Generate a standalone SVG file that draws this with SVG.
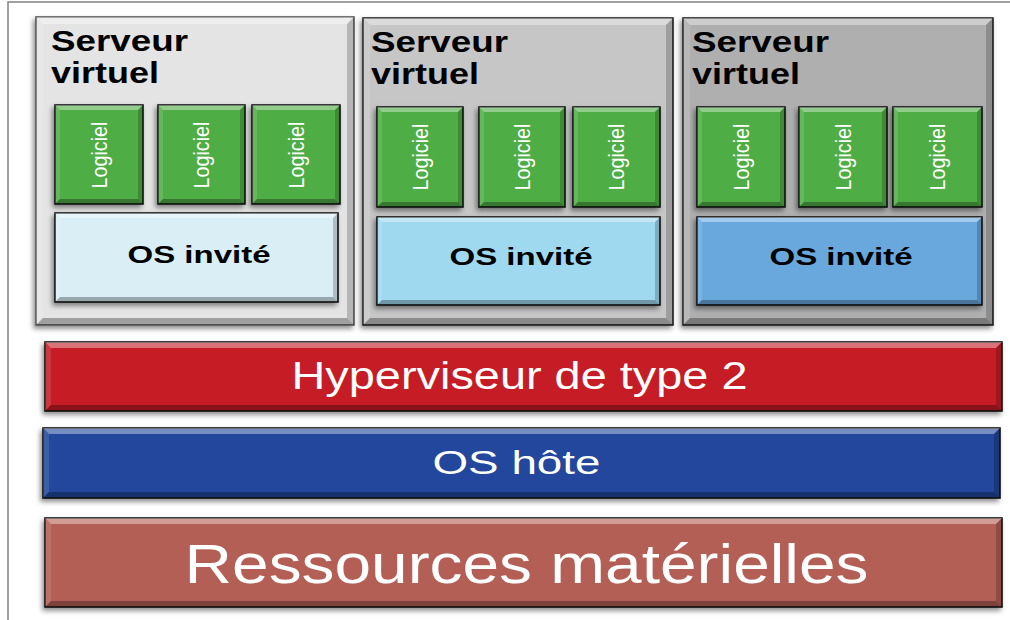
<svg xmlns="http://www.w3.org/2000/svg" width="1010" height="620" viewBox="0 0 1010 620">
<defs>
<filter id="sh" x="-10%" y="-10%" width="120%" height="125%">
<feDropShadow dx="-2" dy="3" stdDeviation="2.5" flood-color="#000" flood-opacity="0.45"/>
</filter>
<style>
.box{filter:url(#sh);stroke-width:1.6}
.srv1{fill:#e4e4e4;stroke:#555}
.srv2{fill:#c6c6c6;stroke:#222}
.srv3{fill:#afafaf;stroke:#222}
.log{fill:#4fad45;stroke:#111}
.os1{fill:#d9eff5;stroke:#111}
.os2{fill:#9fd9ef;stroke:#111}
.os3{fill:#68a8dc;stroke:#111}
.hyp{fill:#c61e26;stroke:#111}
.host{fill:#22479c;stroke:#111}
.res{fill:#b35e55;stroke:#111}
.bt{fill:#fff;fill-opacity:0.38}
.bl{fill:#fff;fill-opacity:0.12}
.bb{fill:#000;fill-opacity:0.3}
.br{fill:#000;fill-opacity:0.2}
.title{font-family:"Liberation Sans",Arial,sans-serif;font-weight:bold;font-size:30px;fill:#000}
.lt{font-family:"Liberation Sans",Arial,sans-serif;font-size:22px;fill:#fff;text-anchor:middle}
.ost{font-family:"Liberation Sans",Arial,sans-serif;font-weight:bold;font-size:24px;fill:#000;text-anchor:middle}
.big{font-family:"Liberation Sans",Arial,sans-serif;fill:#fff;text-anchor:middle}
</style>
</defs>
<rect x="8" y="2" width="1010" height="630" fill="#fff" stroke="#8a8a8a" stroke-width="1.6"/>

<g id="serveur1">
<rect class="box srv1" x="36" y="17" width="318" height="308"/>
<polygon class="bt" points="36,17 354,17 347,24 43,24"/>
<polygon class="bl" points="36,17 43,24 43,318 36,325"/>
<polygon class="bb" points="36,325 43,318 347,318 354,325"/>
<polygon class="br" points="354,17 354,325 347,318 347,24"/>
<text class="title" x="51" y="51" textLength="137" lengthAdjust="spacingAndGlyphs">Serveur</text>
<text class="title" x="51" y="83" textLength="108" lengthAdjust="spacingAndGlyphs">virtuel</text>
<g id="s1-logiciel1">
<rect class="box log" x="55" y="105" width="88" height="99"/>
<polygon class="bt" points="55,105 143,105 138,110 60,110"/>
<polygon class="bl" points="55,105 60,110 60,199 55,204"/>
<polygon class="bb" points="55,204 60,199 138,199 143,204"/>
<polygon class="br" points="143,105 143,204 138,199 138,110"/>
<text class="lt" transform="translate(99,155) rotate(-90)" x="0" y="7.5" textLength="67" lengthAdjust="spacingAndGlyphs">Logiciel</text>
</g>
<g id="s1-logiciel2">
<rect class="box log" x="158" y="105" width="87" height="99"/>
<polygon class="bt" points="158,105 245,105 240,110 163,110"/>
<polygon class="bl" points="158,105 163,110 163,199 158,204"/>
<polygon class="bb" points="158,204 163,199 240,199 245,204"/>
<polygon class="br" points="245,105 245,204 240,199 240,110"/>
<text class="lt" transform="translate(201.5,155) rotate(-90)" x="0" y="7.5" textLength="67" lengthAdjust="spacingAndGlyphs">Logiciel</text>
</g>
<g id="s1-logiciel3">
<rect class="box log" x="252" y="105" width="88" height="99"/>
<polygon class="bt" points="252,105 340,105 335,110 257,110"/>
<polygon class="bl" points="252,105 257,110 257,199 252,204"/>
<polygon class="bb" points="252,204 257,199 335,199 340,204"/>
<polygon class="br" points="340,105 340,204 335,199 335,110"/>
<text class="lt" transform="translate(296,155) rotate(-90)" x="0" y="7.5" textLength="67" lengthAdjust="spacingAndGlyphs">Logiciel</text>
</g>
<g id="s1-os">
<rect class="box os1" x="55" y="213" width="283" height="89"/>
<polygon class="bt" points="55,213 338,213 333,218 60,218"/>
<polygon class="bl" points="55,213 60,218 60,297 55,302"/>
<polygon class="bb" points="55,302 60,297 333,297 338,302"/>
<polygon class="br" points="338,213 338,302 333,297 333,218"/>
<text class="ost" x="199" y="263" textLength="143" lengthAdjust="spacingAndGlyphs">OS invité</text>
</g>
</g>

<g id="serveur2">
<rect class="box srv2" x="363" y="18" width="310" height="307"/>
<polygon class="bt" points="363,18 673,18 666,25 370,25"/>
<polygon class="bl" points="363,18 370,25 370,318 363,325"/>
<polygon class="bb" points="363,325 370,318 666,318 673,325"/>
<polygon class="br" points="673,18 673,325 666,318 666,25"/>
<text class="title" x="371" y="52" textLength="137" lengthAdjust="spacingAndGlyphs">Serveur</text>
<text class="title" x="371" y="84" textLength="108" lengthAdjust="spacingAndGlyphs">virtuel</text>
<g id="s2-logiciel1">
<rect class="box log" x="377" y="107" width="86" height="100"/>
<polygon class="bt" points="377,107 463,107 458,112 382,112"/>
<polygon class="bl" points="377,107 382,112 382,202 377,207"/>
<polygon class="bb" points="377,207 382,202 458,202 463,207"/>
<polygon class="br" points="463,107 463,207 458,202 458,112"/>
<text class="lt" transform="translate(420,157) rotate(-90)" x="0" y="7.5" textLength="67" lengthAdjust="spacingAndGlyphs">Logiciel</text>
</g>
<g id="s2-logiciel2">
<rect class="box log" x="479" y="107" width="86" height="100"/>
<polygon class="bt" points="479,107 565,107 560,112 484,112"/>
<polygon class="bl" points="479,107 484,112 484,202 479,207"/>
<polygon class="bb" points="479,207 484,202 560,202 565,207"/>
<polygon class="br" points="565,107 565,207 560,202 560,112"/>
<text class="lt" transform="translate(522,157) rotate(-90)" x="0" y="7.5" textLength="67" lengthAdjust="spacingAndGlyphs">Logiciel</text>
</g>
<g id="s2-logiciel3">
<rect class="box log" x="573" y="107" width="87" height="100"/>
<polygon class="bt" points="573,107 660,107 655,112 578,112"/>
<polygon class="bl" points="573,107 578,112 578,202 573,207"/>
<polygon class="bb" points="573,207 578,202 655,202 660,207"/>
<polygon class="br" points="660,107 660,207 655,202 655,112"/>
<text class="lt" transform="translate(616.5,157) rotate(-90)" x="0" y="7.5" textLength="67" lengthAdjust="spacingAndGlyphs">Logiciel</text>
</g>
<g id="s2-os">
<rect class="box os2" x="377" y="217" width="283" height="88"/>
<polygon class="bt" points="377,217 660,217 655,222 382,222"/>
<polygon class="bl" points="377,217 382,222 382,300 377,305"/>
<polygon class="bb" points="377,305 382,300 655,300 660,305"/>
<polygon class="br" points="660,217 660,305 655,300 655,222"/>
<text class="ost" x="521" y="265" textLength="143" lengthAdjust="spacingAndGlyphs">OS invité</text>
</g>
</g>

<g id="serveur3">
<rect class="box srv3" x="683" y="18" width="310" height="307"/>
<polygon class="bt" points="683,18 993,18 986,25 690,25"/>
<polygon class="bl" points="683,18 690,25 690,318 683,325"/>
<polygon class="bb" points="683,325 690,318 986,318 993,325"/>
<polygon class="br" points="993,18 993,325 986,318 986,25"/>
<text class="title" x="692" y="52" textLength="137" lengthAdjust="spacingAndGlyphs">Serveur</text>
<text class="title" x="692" y="84" textLength="108" lengthAdjust="spacingAndGlyphs">virtuel</text>
<g id="s3-logiciel1">
<rect class="box log" x="697" y="107" width="88" height="100"/>
<polygon class="bt" points="697,107 785,107 780,112 702,112"/>
<polygon class="bl" points="697,107 702,112 702,202 697,207"/>
<polygon class="bb" points="697,207 702,202 780,202 785,207"/>
<polygon class="br" points="785,107 785,207 780,202 780,112"/>
<text class="lt" transform="translate(741,157) rotate(-90)" x="0" y="7.5" textLength="67" lengthAdjust="spacingAndGlyphs">Logiciel</text>
</g>
<g id="s3-logiciel2">
<rect class="box log" x="799" y="107" width="88" height="100"/>
<polygon class="bt" points="799,107 887,107 882,112 804,112"/>
<polygon class="bl" points="799,107 804,112 804,202 799,207"/>
<polygon class="bb" points="799,207 804,202 882,202 887,207"/>
<polygon class="br" points="887,107 887,207 882,202 882,112"/>
<text class="lt" transform="translate(843,157) rotate(-90)" x="0" y="7.5" textLength="67" lengthAdjust="spacingAndGlyphs">Logiciel</text>
</g>
<g id="s3-logiciel3">
<rect class="box log" x="893" y="107" width="89" height="100"/>
<polygon class="bt" points="893,107 982,107 977,112 898,112"/>
<polygon class="bl" points="893,107 898,112 898,202 893,207"/>
<polygon class="bb" points="893,207 898,202 977,202 982,207"/>
<polygon class="br" points="982,107 982,207 977,202 977,112"/>
<text class="lt" transform="translate(937.5,157) rotate(-90)" x="0" y="7.5" textLength="67" lengthAdjust="spacingAndGlyphs">Logiciel</text>
</g>
<g id="s3-os">
<rect class="box os3" x="697" y="217" width="285" height="88"/>
<polygon class="bt" points="697,217 982,217 977,222 702,222"/>
<polygon class="bl" points="697,217 702,222 702,300 697,305"/>
<polygon class="bb" points="697,305 702,300 977,300 982,305"/>
<polygon class="br" points="982,217 982,305 977,300 977,222"/>
<text class="ost" x="841" y="265" textLength="143" lengthAdjust="spacingAndGlyphs">OS invité</text>
</g>
</g>

<g id="hyperviseur">
<rect class="box hyp" x="45" y="342" width="957" height="69"/>
<polygon class="bt" points="45,342 1002,342 996,348 51,348"/>
<polygon class="bl" points="45,342 51,348 51,405 45,411"/>
<polygon class="bb" points="45,411 51,405 996,405 1002,411"/>
<polygon class="br" points="1002,342 1002,411 996,405 996,348"/>
<text class="big" x="519.5" y="389" font-size="38" textLength="456" lengthAdjust="spacingAndGlyphs">Hyperviseur de type 2</text>
</g>

<g id="os-hote">
<rect class="box host" x="43" y="428" width="957" height="70"/>
<polygon class="bt" points="43,428 1000,428 994,434 49,434"/>
<polygon class="bl" points="43,428 49,434 49,492 43,498"/>
<polygon class="bb" points="43,498 49,492 994,492 1000,498"/>
<polygon class="br" points="1000,428 1000,498 994,492 994,434"/>
<text class="big" x="516.5" y="474" font-size="34" textLength="168" lengthAdjust="spacingAndGlyphs">OS hôte</text>
</g>

<g id="ressources">
<rect class="box res" x="45" y="518" width="957" height="89"/>
<polygon class="bt" points="45,518 1002,518 996,524 51,524"/>
<polygon class="bl" points="45,518 51,524 51,601 45,607"/>
<polygon class="bb" points="45,607 51,601 996,601 1002,607"/>
<polygon class="br" points="1002,518 1002,607 996,601 996,524"/>
<text class="big" x="526.5" y="583" font-size="56" textLength="684" lengthAdjust="spacingAndGlyphs">Ressources matérielles</text>
</g>

<g id="connectors"/>
</svg>
